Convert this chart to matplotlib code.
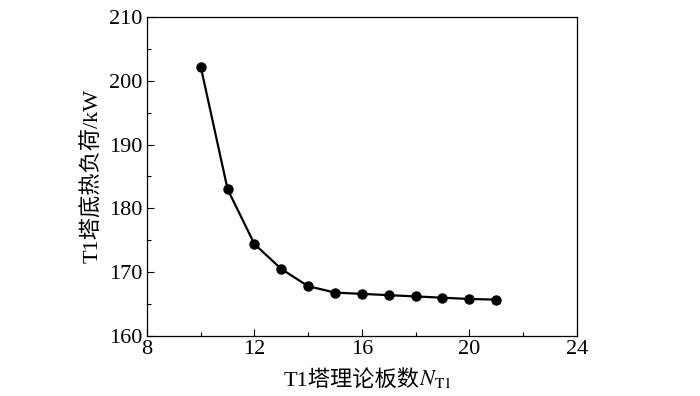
import matplotlib
matplotlib.use("Agg")
import matplotlib.pyplot as plt
from matplotlib.ticker import MultipleLocator

# data
plates = [10, 11, 12, 13, 14, 15, 16, 17, 18, 19, 20, 21]
heat_load = [202.2, 183.0, 174.4, 170.5, 167.8, 166.8, 166.6, 166.4, 166.2, 166.0, 165.8, 165.7]

x_ticks = [8, 12, 16, 20, 24]
y_ticks = [160, 170, 180, 190, 200, 210]

plt.rcParams['font.family'] = ['Liberation Serif', 'Noto Sans CJK SC']
plt.rcParams['mathtext.fontset'] = 'stix'

fig = plt.figure(figsize=(7, 3.96), dpi=100)
ax = fig.add_axes([0.21, 0.1515, 0.614, 0.806])

ax.plot(plates, heat_load, color='black', lw=1.6, marker='o', ms=6.5)

ax.set_xlim(8, 24)
ax.set_ylim(160, 210)
ax.set_xticks(x_ticks)
ax.set_yticks(y_ticks)
ax.xaxis.set_minor_locator(MultipleLocator(2))
ax.yaxis.set_minor_locator(MultipleLocator(5))
ax.tick_params(which='both', direction='in', labelsize=16, top=False, right=False)
ax.tick_params(axis='x', pad=3)
ax.tick_params(axis='y', pad=3)
ax.tick_params(which='major', length=5, width=0.8)
ax.tick_params(which='minor', length=3, width=0.8)
for s in ax.spines.values():
    s.set_linewidth(0.9)

# x label: chinese part as plain text, N_T1 attached after it with mathtext
xl = ax.set_xlabel('T1塔理论板数', fontsize=16)
ax.xaxis.set_label_coords(0.475, -0.105)
ax.annotate(r'$N_{\mathrm{T1}}$', xy=(1, 0), xycoords=xl, xytext=(0, 0),
            textcoords='offset points', ha='left', va='bottom', fontsize=16)

ax.set_ylabel('T1塔底热负荷/kW', fontsize=16)
ax.yaxis.set_label_coords(-0.102, 0.5)

fig.savefig('out.png', dpi=100)
